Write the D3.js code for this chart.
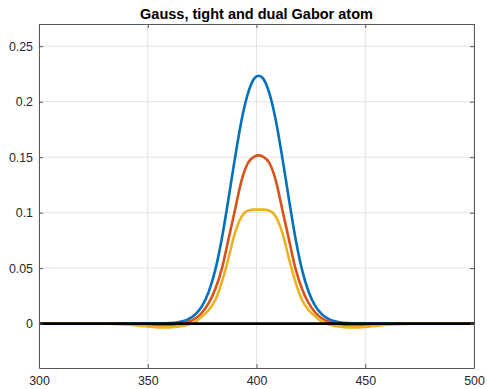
<!DOCTYPE html>
<html>
<head>
<meta charset="utf-8">
<script src="https://cdn.jsdelivr.net/npm/d3@7"></script>
<style>
  body { margin: 0; background: #fff; }
  text { font-family: Arial, "Liberation Sans", sans-serif; }
</style>
</head>
<body>
<div id="chart"></div>
<script>
// sample positions (denser near the peak)
const xs = [300, 330, 335, 340, 345, 350, 355, 360, 364, 368, 372, 375, 378, 381, 384, 387, 390, 393, 396, 399,
  401, 403, 406, 409, 412, 415, 418, 421, 424, 427, 430, 434, 438, 442, 447, 452, 457, 462, 467, 472, 500];

// Gauss atom (blue)
const gaussAtom = [0, 0, 0, 0, 0, 0, 0.0001, 0.0004, 0.0012, 0.0033, 0.0085, 0.0160, 0.0285, 0.0480, 0.0760, 0.1110, 0.1480, 0.1820, 0.2070, 0.2210,
  0.2234, 0.2210, 0.2070, 0.1820, 0.1480, 0.1110, 0.0760, 0.0480, 0.0285, 0.0160, 0.0085, 0.0033, 0.0012, 0.0004, 0.0001, 0, 0, 0, 0, 0, 0];

// tight atom (red)
const tightAtom = [0, 0, -0.0001, -0.0003, -0.0006, -0.0011, -0.0014, -0.0012, -0.0006, 0.0010, 0.0048, 0.0100, 0.0185, 0.0310, 0.0490, 0.0750, 0.1015, 0.1280, 0.1445, 0.1505,
  0.1516, 0.1505, 0.1445, 0.1280, 0.1015, 0.0750, 0.0490, 0.0310, 0.0185, 0.0100, 0.0048, 0.0010, -0.0006, -0.0012, -0.0014, -0.0011, -0.0006, -0.0003, -0.0001, 0, 0];

// dual atom (yellow)
const dualAtom = [0, 0, -0.0003, -0.0008, -0.0016, -0.0026, -0.0034, -0.0034, -0.0026, -0.0012, 0.0018, 0.0065, 0.0120, 0.0210, 0.0370, 0.0580, 0.0810, 0.0960, 0.1018, 0.1027,
  0.1027, 0.1027, 0.1018, 0.0960, 0.0810, 0.0580, 0.0370, 0.0210, 0.0120, 0.0065, 0.0018, -0.0012, -0.0026, -0.0034, -0.0034, -0.0026, -0.0016, -0.0008, -0.0003, 0, 0];

const zeroX = [300, 500];
const zeroY = [0, 0];

const xTicks = [300, 350, 400, 450, 500];
const yTicks = [0, 0.05, 0.1, 0.15, 0.2, 0.25];
const title = "Gauss, tight and dual Gabor atom";

const W = 487, H = 389;
const margin = { top: 24, right: 13, bottom: 21, left: 39 },
  width = W - margin.left - margin.right,
  height = H - margin.top - margin.bottom;

const svg = d3.select("#chart")
  .append("svg")
  .attr("width", W)
  .attr("height", H);

const g = svg.append("g")
  .attr("transform", `translate(${margin.left},${margin.top})`);

const x = d3.scaleLinear().domain([300, 500]).range([0, width]);
const y = d3.scaleLinear().domain([-0.04, 0.27]).range([height, 0]);

// grid
g.append("g")
  .selectAll("line")
  .data(xTicks)
  .join("line")
    .attr("x1", d => x(d)).attr("x2", d => x(d))
    .attr("y1", 0).attr("y2", height)
    .attr("stroke", "#e3e3e3");
g.append("g")
  .selectAll("line")
  .data(yTicks)
  .join("line")
    .attr("x1", 0).attr("x2", width)
    .attr("y1", d => y(d)).attr("y2", d => y(d))
    .attr("stroke", "#e3e3e3");

// curves
const line = d3.line()
  .x(d => x(d[0]))
  .y(d => y(d[1]))
  .curve(d3.curveMonotoneX);

const series = [
  { vals: gaussAtom, color: "#0072BD" },
  { vals: tightAtom, color: "#D95319" },
  { vals: dualAtom, color: "#EDB120" }
];

series.forEach(s => {
  g.append("path")
    .datum(xs.map((v, i) => [v, s.vals[i]]))
    .attr("fill", "none")
    .attr("stroke", s.color)
    .attr("stroke-width", 2.6)
    .attr("d", line);
});

g.append("path")
  .datum(zeroX.map((v, i) => [v, zeroY[i]]))
  .attr("fill", "none")
  .attr("stroke", "#000")
  .attr("stroke-width", 2.8)
  .attr("d", d3.line().x(d => x(d[0])).y(d => y(d[1])));

// axes (MATLAB-like box, ticks pointing inward)
const axisColor = "#5a5a5a";
const fmt = d => String(d);

const xAxis = g.append("g")
  .attr("transform", `translate(0,${height})`)
  .call(d3.axisBottom(x).tickValues(xTicks).tickSize(-4).tickSizeOuter(0).tickPadding(8).tickFormat(fmt));
const xTop = g.append("g")
  .call(d3.axisTop(x).tickValues(xTicks).tickSize(-4).tickSizeOuter(0).tickFormat(""));
const yAxis = g.append("g")
  .call(d3.axisLeft(y).tickValues(yTicks).tickSize(-4).tickSizeOuter(0).tickPadding(6).tickFormat(fmt));
const yRight = g.append("g")
  .attr("transform", `translate(${width},0)`)
  .call(d3.axisRight(y).tickValues(yTicks).tickSize(-4).tickSizeOuter(0).tickFormat(""));

[xAxis, xTop, yAxis, yRight].forEach(a => {
  a.select(".domain").attr("stroke", axisColor);
  a.selectAll(".tick line").attr("stroke", axisColor);
  a.selectAll(".tick text")
    .attr("fill", "#262626")
    .style("font-size", "12.4px");
});

svg.append("text")
  .attr("x", margin.left + width / 2)
  .attr("y", 19)
  .attr("text-anchor", "middle")
  .attr("font-weight", "bold")
  .attr("font-size", "14.5px")
  .attr("fill", "#000")
  .text(title);
</script>
</body>
</html>
